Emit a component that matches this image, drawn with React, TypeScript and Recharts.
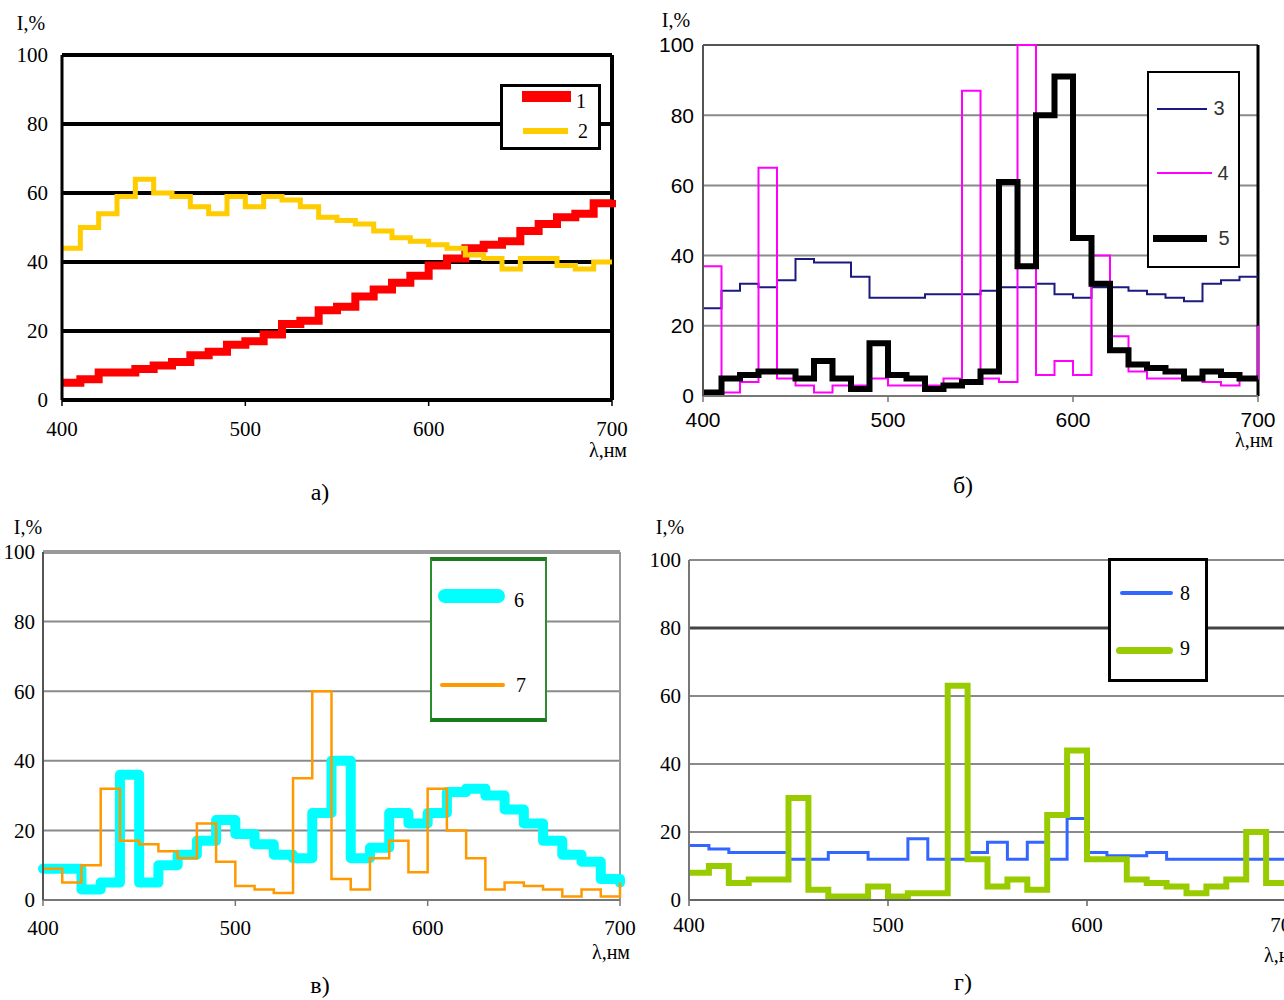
import React from 'react'
import { LineChart, Line, XAxis, YAxis, CartesianGrid, ReferenceLine } from 'recharts'

// wavelength grid, nm (step start points; last point closes the final step)
const wavelengths = [
  400, 410, 420, 430, 440, 450, 460, 470, 480, 490,
  500, 510, 520, 530, 540, 550, 560, 570, 580, 590,
  600, 610, 620, 630, 640, 650, 660, 670, 680, 690, 700,
]
const xTicks = [400, 500, 600, 700]
const yTicks = [0, 20, 40, 60, 80, 100]

// а)
const series1 = [5, 6, 8, 8, 9, 10, 11, 13, 14, 16, 17, 19, 22, 23, 26, 27, 30, 32, 34, 36, 39, 41, 44, 45, 46, 49, 51, 53, 54, 57, 58]
const series2 = [44, 50, 54, 59, 64, 60, 59, 56, 54, 59, 56, 59, 58, 56, 53, 52, 51, 49, 47, 46, 45, 44, 42, 41, 38, 41, 41, 39, 38, 40, 40]
// б)
const series3 = [25, 30, 32, 31, 33, 39, 38, 38, 34, 28, 28, 28, 29, 29, 29, 30, 31, 31, 32, 29, 28, 31, 31, 30, 29, 28, 27, 32, 33, 34, 34]
const series4 = [37, 1, 4, 65, 5, 3, 1, 3, 3, 5, 3, 3, 3, 5, 87, 5, 4, 100, 6, 10, 6, 40, 17, 7, 5, 5, 5, 4, 3, 5, 20]
const series5 = [1, 5, 6, 7, 7, 5, 10, 5, 2, 15, 6, 5, 2, 3, 4, 7, 61, 37, 80, 91, 45, 32, 13, 9, 8, 7, 5, 7, 6, 5, 5]
// в)
const series6 = [9, 9, 3, 5, 36, 5, 10, 13, 17, 23, 19, 16, 13, 12, 25, 40, 12, 15, 25, 22, 25, 31, 32, 30, 26, 22, 17, 13, 11, 6, 5]
const series7 = [9, 5, 10, 32, 17, 16, 14, 12, 22, 11, 4, 3, 2, 35, 60, 6, 3, 12, 17, 8, 32, 20, 12, 3, 5, 4, 3, 1, 3, 1, 5]
// г)
const series8 = [16, 15, 14, 14, 14, 12, 12, 14, 14, 12, 12, 18, 12, 12, 14, 17, 12, 17, 12, 24, 14, 13, 13, 14, 12, 12, 12, 12, 12, 12, 12]
const series9 = [8, 10, 5, 6, 6, 30, 3, 1, 1, 4, 1, 2, 2, 63, 12, 4, 6, 3, 25, 44, 12, 12, 6, 5, 4, 2, 4, 6, 20, 5, 5]

type Row = Record<string, number>

function buildRows(cols: Record<string, number[]>): Row[] {
  return wavelengths.map((x, i) => {
    const row: Row = { x }
    Object.keys(cols).forEach((k) => { row[k] = cols[k][i] })
    return row
  })
}

const dataA = buildRows({ s1: series1, s2: series2 })
const dataB = buildRows({ s3: series3, s4: series4, s5: series5 })
const dataC = buildRows({ s6: series6, s7: series7 })
const dataD = buildRows({ s8: series8, s9: series9 })

const SERIF = '"Liberation Serif", "Times New Roman", serif'
const SANS = '"Liberation Sans", Arial, sans-serif'

interface LineDef { key: string; color: string; width: number; round?: boolean }

interface PanelProps {
  data: Row[]
  lines: LineDef[]
  x0: number; y0: number; w: number; h: number
  font: string
  grid: string; gridWidth: number
  yAxis: string; yAxisWidth: number
  xAxis: string; xAxisWidth: number
  border: string; borderWidth: number
  yGap: number; xGap: number
  extraGrid?: Array<{ y: number; color: string; width: number }>
}

const YW = 60
const XH = 50
const MT = 20
const MR = 30

function Panel(p: PanelProps) {
  const tickStyle = { fill: '#000', fontSize: 21, fontFamily: p.font }
  return (
    <div style={{ position: 'absolute', left: p.x0 - YW, top: p.y0 - MT }}>
      <LineChart
        width={p.w + YW + MR}
        height={p.h + MT + XH}
        data={p.data}
        margin={{ top: MT, right: MR, bottom: 0, left: 0 }}
      >
        <CartesianGrid vertical={false} stroke={p.grid} strokeWidth={p.gridWidth} />
        <XAxis
          type="number" dataKey="x" domain={[400, 700]} ticks={xTicks} interval={0}
          height={XH} tickSize={6} tickMargin={p.xGap} tick={tickStyle}
          axisLine={{ stroke: p.xAxis, strokeWidth: p.xAxisWidth }}
          tickLine={{ stroke: p.xAxis, strokeWidth: 1.5 }}
        />
        <YAxis
          type="number" domain={[0, 100]} ticks={yTicks} interval={0} width={YW}
          tickSize={0} tickMargin={p.yGap} tick={tickStyle} tickLine={false}
          axisLine={{ stroke: p.yAxis, strokeWidth: p.yAxisWidth }}
        />
        {(p.extraGrid ?? []).map((g) => (
          <ReferenceLine key={g.y} y={g.y} stroke={g.color} strokeWidth={g.width} />
        ))}
        <ReferenceLine x={700} stroke={p.border} strokeWidth={p.borderWidth} />
        {p.lines.map((l) => (
          <Line
            key={l.key} dataKey={l.key} type="stepAfter" stroke={l.color} strokeWidth={l.width}
            strokeLinejoin={l.round ? 'round' : 'miter'} strokeLinecap={l.round ? 'round' : 'butt'}
            dot={false} activeDot={false} isAnimationActive={false}
          />
        ))}
      </LineChart>
    </div>
  )
}

function Txt({ x, y, children, size = 20, font = SERIF, color = '#000' }: {
  x: number; y: number; children: React.ReactNode; size?: number; font?: string; color?: string
}) {
  return (
    <div style={{
      position: 'absolute', left: x, top: y, transform: 'translate(-50%, -50%)',
      fontFamily: font, fontSize: size, lineHeight: 1, color, whiteSpace: 'nowrap',
    }}>{children}</div>
  )
}

function Box({ l, t, w, h, style }: { l: number; t: number; w: number; h: number; style: React.CSSProperties }) {
  return <div style={{ position: 'absolute', left: l, top: t, width: w, height: h, boxSizing: 'border-box', background: '#fff', ...style }} />
}

function Swatch({ l, r, y, h, color, round }: { l: number; r: number; y: number; h: number; color: string; round?: boolean }) {
  return <div style={{ position: 'absolute', left: l, top: y - h / 2, width: r - l, height: h, background: color, borderRadius: round ? h / 2 : 0 }} />
}

export default function App() {
  return (
    <div style={{ position: 'fixed', left: 0, top: 0, width: 1284, height: 1000, overflow: 'hidden', background: '#fff' }}>
      {/* а) */}
      <Panel
        data={dataA} x0={62} y0={55} w={550} h={345} font={SERIF}
        lines={[{ key: 's1', color: '#ff0000', width: 8 }, { key: 's2', color: '#ffcc00', width: 5 }]}
        grid="#000" gridWidth={4} yAxis="#000" yAxisWidth={3} xAxis="#000" xAxisWidth={4}
        border="#000" borderWidth={4} yGap={14} xGap={15}
      />
      {/* б) */}
      <Panel
        data={dataB} x0={703} y0={45} w={555} h={351} font={SANS}
        lines={[
          { key: 's3', color: '#1a1a80', width: 2 },
          { key: 's4', color: '#ff00ff', width: 2 },
          { key: 's5', color: '#000', width: 6 },
        ]}
        grid="#8a8a8a" gridWidth={2} yAxis="#555" yAxisWidth={2} xAxis="#777" xAxisWidth={2}
        border="#000" borderWidth={3} yGap={9} xGap={10}
        extraGrid={[{ y: 100, color: '#555', width: 2 }]}
      />
      {/* в) */}
      <Panel
        data={dataC} x0={43} y0={552} w={577} h={348} font={SERIF}
        lines={[
          { key: 's6', color: '#00ffff', width: 10, round: true },
          { key: 's7', color: '#ff9900', width: 2.5 },
        ]}
        grid="#8a8a8a" gridWidth={2} yAxis="#555" yAxisWidth={2} xAxis="#777" xAxisWidth={2}
        border="#999" borderWidth={2} yGap={8} xGap={14}
        extraGrid={[{ y: 100, color: '#999', width: 4 }]}
      />
      {/* г) */}
      <Panel
        data={dataD} x0={689} y0={560} w={597} h={340} font={SERIF}
        lines={[
          { key: 's8', color: '#3366ff', width: 3 },
          { key: 's9', color: '#99cc00', width: 6 },
        ]}
        grid="#8a8a8a" gridWidth={2} yAxis="#777" yAxisWidth={2} xAxis="#666" xAxisWidth={2}
        border="#999" borderWidth={1} yGap={8} xGap={11}
        extraGrid={[{ y: 80, color: '#444', width: 3 }]}
      />

      {/* legends */}
      <Box l={500} t={84} w={101} h={66} style={{ border: '3px solid #000' }} />
      <Swatch l={522} r={571} y={96} h={11} color="#ff0000" />
      <Txt x={581} y={101}>1</Txt>
      <Swatch l={523} r={568} y={131} h={6} color="#ffcc00" />
      <Txt x={583} y={131}>2</Txt>

      <Box l={1147} t={71} w={93} h={197} style={{ border: '2px solid #000' }} />
      <Swatch l={1157} r={1207} y={109} h={2} color="#1a1a80" />
      <Txt x={1219} y={108} font={SANS} color="#333">3</Txt>
      <Swatch l={1157} r={1212} y={173} h={2} color="#ff00ff" />
      <Txt x={1223} y={173} font={SANS} color="#333">4</Txt>
      <Swatch l={1153} r={1207} y={238} h={7} color="#000" />
      <Txt x={1224} y={238} font={SANS} color="#333">5</Txt>

      <Box l={430} t={557} w={117} h={165} style={{ borderLeft: '2px solid #2e8b2e', borderRight: '2px solid #2e8b2e', borderTop: '4px solid #1b7a1b', borderBottom: '4px solid #1b7a1b' }} />
      <Swatch l={438} r={505} y={596} h={14} color="#00ffff" round />
      <Txt x={519} y={600}>6</Txt>
      <Swatch l={440} r={505} y={685} h={4} color="#ff9900" round />
      <Txt x={521} y={685}>7</Txt>

      <Box l={1108} t={558} w={100} h={124} style={{ border: '3px solid #000' }} />
      <Swatch l={1120} r={1173} y={593} h={4} color="#3366ff" round />
      <Txt x={1185} y={593}>8</Txt>
      <Swatch l={1116} r={1173} y={650} h={7} color="#99cc00" round />
      <Txt x={1185} y={648}>9</Txt>

      {/* axis titles */}
      <Txt x={31} y={23}>I,%</Txt>
      <Txt x={608} y={450}>λ,нм</Txt>
      <Txt x={676} y={20}>I,%</Txt>
      <Txt x={1254} y={440}>λ,нм</Txt>
      <Txt x={28} y={527}>I,%</Txt>
      <Txt x={611} y={952}>λ,нм</Txt>
      <Txt x={670} y={527}>I,%</Txt>
      <Txt x={1283} y={955}>λ,нм</Txt>

      {/* captions */}
      <Txt x={320} y={492} size={24}>а)</Txt>
      <Txt x={963} y={485} size={24}>б)</Txt>
      <Txt x={320} y={985} size={24}>в)</Txt>
      <Txt x={963} y={982} size={24}>г)</Txt>
    </div>
  )
}
